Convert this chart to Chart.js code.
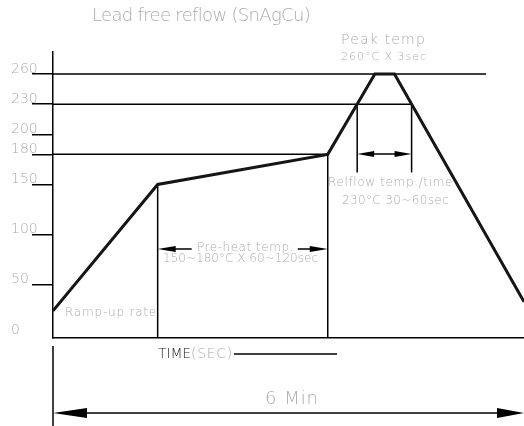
<!DOCTYPE html>
<html lang="en">
<head>
    <meta charset="UTF-8">
    <script src="https://cdn.jsdelivr.net/npm/chart.js@4.4.1/dist/chart.umd.min.js"></script>
    <title>Lead free reflow</title>
    <style>
        html, body {margin: 0; padding: 0; background: #fff;}
        #wrap {width: 524px; height: 426px;}
    </style>
</head>
<body>
    <div id="wrap">
        <canvas id="chart" width="524" height="426"></canvas>
    </div>

    <script>
    // reflow profile, time in seconds / temperature in degC
    const timeSec = [0, 80, 210, 246, 261, 360];
    const tempC = [24, 150, 180, 260, 260, 33];

    const yTicks = [0, 50, 100, 150, 180, 200, 230, 260];
    const refTemps = [260, 230, 180];
    const preheatRange = [150, 180];
    const reflowTemp = 230;
    const totalSec = 360;

    const GRAY = '#ababab';
    const FONT = "'DejaVu Sans'";

    function txt(ctx, s, x, y, size, w, color) {
        ctx.save();
        ctx.font = '200 ' + size + 'px ' + FONT;
        ctx.fillStyle = color || GRAY;
        ctx.textAlign = 'left';
        ctx.textBaseline = 'middle';
        ctx.letterSpacing = '0px';
        const m = ctx.measureText(s).width;
        if (w) ctx.letterSpacing = ((w - m) / s.length) + 'px';
        ctx.fillText(s, x, y);
        ctx.restore();
    }

    function line(ctx, x1, y1, x2, y2) {
        ctx.beginPath();
        ctx.moveTo(x1, y1);
        ctx.lineTo(x2, y2);
        ctx.stroke();
    }

    function head(ctx, tipX, y, len, half) {
        ctx.beginPath();
        ctx.moveTo(tipX, y);
        ctx.lineTo(tipX + len, y - half);
        ctx.lineTo(tipX + len, y + half);
        ctx.closePath();
        ctx.fill();
    }

    // time where the curve crosses temp v, searching from point index 'from'
    function crossAt(v, from) {
        for (let i = from; i < timeSec.length - 1; i++) {
            const a = tempC[i], b = tempC[i + 1];
            if (a !== b && (a - v) * (b - v) <= 0) {
                return timeSec[i] + (v - a) / (b - a) * (timeSec[i + 1] - timeSec[i]);
            }
        }
        return timeSec[timeSec.length - 1];
    }

    const guides = {
        id: 'guides',
        beforeDatasetsDraw(chart) {
            const {ctx, chartArea, scales: {x, y}} = chart;
            const peakIdx = tempC.indexOf(Math.max(...tempC));
            const tPreStart = timeSec[tempC.indexOf(preheatRange[0])];
            const tPreEnd = timeSec[tempC.indexOf(preheatRange[1])];
            const tUp = crossAt(reflowTemp, 0);
            const tDown = crossAt(reflowTemp, peakIdx + 1);
            const ends = {260: 331, 230: tDown, 180: tPreEnd};

            ctx.save();
            ctx.strokeStyle = '#000';
            ctx.lineWidth = 1.5;
            refTemps.forEach(v => {
                line(ctx, chartArea.left, y.getPixelForValue(v), x.getPixelForValue(ends[v]), y.getPixelForValue(v));
            });
            line(ctx, x.getPixelForValue(tPreStart), y.getPixelForValue(preheatRange[0]), x.getPixelForValue(tPreStart), chartArea.bottom);
            line(ctx, x.getPixelForValue(tPreEnd), y.getPixelForValue(preheatRange[1]), x.getPixelForValue(tPreEnd), chartArea.bottom);
            line(ctx, x.getPixelForValue(tUp), y.getPixelForValue(reflowTemp), x.getPixelForValue(tUp), y.getPixelForValue(162));
            line(ctx, x.getPixelForValue(tDown), y.getPixelForValue(reflowTemp), x.getPixelForValue(tDown), y.getPixelForValue(162));
            ctx.restore();
        },
        afterDraw(chart) {
            const {ctx, chartArea, scales: {x, y}} = chart;
            const peakIdx = tempC.indexOf(Math.max(...tempC));
            const tPreStart = timeSec[tempC.indexOf(preheatRange[0])];
            const tPreEnd = timeSec[tempC.indexOf(preheatRange[1])];
            const tUp = crossAt(reflowTemp, 0);
            const tDown = crossAt(reflowTemp, peakIdx + 1);

            ctx.save();
            ctx.strokeStyle = '#000';
            ctx.fillStyle = '#000';
            ctx.lineWidth = 1.5;

            // reflow arrow
            const ra = 154, r1 = x.getPixelForValue(tUp), r2 = x.getPixelForValue(tDown);
            line(ctx, r1 + 10, ra, r2 - 10, ra);
            head(ctx, r1, ra, 17, 3);
            head(ctx, r2, ra, -17, 3);

            // pre-heat arrows
            const pa = 249, p1 = x.getPixelForValue(tPreStart), p2 = x.getPixelForValue(tPreEnd);
            line(ctx, p1 + 10, pa, p1 + 34, pa);
            line(ctx, p2 - 30, pa, p2 - 10, pa);
            head(ctx, p1, pa, 18, 3);
            head(ctx, p2, pa, -18, 3);

            // lower part: second axis stub, time label, 6 min arrow
            const x0 = x.getPixelForValue(0), xEnd = x.getPixelForValue(totalSec);
            line(ctx, x0, chartArea.bottom + 8, x0, chart.height);
            line(ctx, 234, 354, 337, 354);
            const ba = 413;
            line(ctx, x0 + 20, ba, xEnd - 20, ba);
            head(ctx, x0, ba, 34, 5);
            head(ctx, xEnd, ba, -27, 5);
            ctx.restore();

            txt(ctx, 'Lead free reflow (SnAgCu)', 92, 16, 18, 218);
            txt(ctx, 'Peak temp', 341, 40, 14, 85);
            txt(ctx, '260°C X 3sec', 341, 57, 11, 86);
            txt(ctx, 'Relflow temp./time', 328, 183, 12, 125);
            txt(ctx, '230°C 30~60sec', 342, 201, 12, 107);
            txt(ctx, 'Pre-heat temp.', 197, 248, 12, 97);
            txt(ctx, '150~180°C X 60~120sec', 163, 259, 12, 155);
            txt(ctx, 'Ramp-up rate', 65, 313, 12, 92);
            txt(ctx, 'TIME', 158, 354, 14, 33, '#222');
            txt(ctx, '(SEC)', 191, 354, 14, 42);
            txt(ctx, '6 Min', 265, 399, 18, 54);
        }
    };

    const ctx = document.getElementById('chart').getContext('2d');

    const config = {
        type: 'scatter',
        data: {
            datasets: [{
                data: timeSec.map((t, i) => ({x: t, y: tempC[i]})),
                showLine: true,
                borderColor: '#151515',
                borderWidth: 3,
                pointRadius: 0,
                tension: 0
            }]
        },
        options: {
            responsive: false,
            animation: false,
            layout: {padding: {left: 11, top: 52, right: 0, bottom: 88}},
            plugins: {legend: {display: false}, tooltip: {enabled: false}},
            scales: {
                x: {
                    type: 'linear',
                    min: 0,
                    max: totalSec,
                    ticks: {display: false},
                    grid: {display: false},
                    border: {display: true, color: '#000', width: 1.5},
                    afterFit: s => { s.height = 0; }
                },
                y: {
                    type: 'linear',
                    min: -3,
                    max: 282,
                    afterBuildTicks: s => { s.ticks = yTicks.map(v => ({value: v})); },
                    afterFit: s => { s.width = 42; },
                    ticks: {
                        crossAlign: 'far',
                        labelOffset: -5,
                        color: GRAY,
                        font: {family: FONT, size: 14, weight: 200},
                        callback: v => String(v)
                    },
                    grid: {
                        drawOnChartArea: false,
                        drawTicks: true,
                        tickLength: 21,
                        lineWidth: 1.5,
                        color: c => (c.tick && c.tick.value === 0) ? 'rgba(0,0,0,0)' : '#000'
                    },
                    border: {display: true, color: '#000', width: 1.5}
                }
            }
        },
        plugins: [guides]
    };

    const myChart = new Chart(ctx, config);
    </script>
</body>
</html>
